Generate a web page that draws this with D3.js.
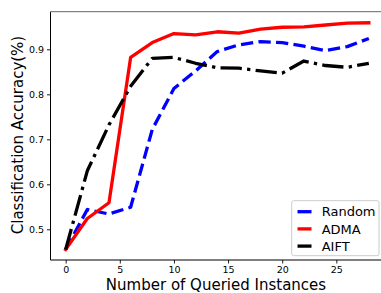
<!DOCTYPE html>
<html>
<head>
<meta charset="utf-8">
<script src="https://cdn.jsdelivr.net/npm/d3@7"></script>
<style>
  html, body { margin: 0; padding: 0; background: #fff; }
  svg { display: block; font-family: "DejaVu Sans", sans-serif; }
</style>
</head>
<body>
<svg id="chart" width="381" height="293"></svg>
<script>
const queried = [0, 2, 4, 6, 8, 10, 12, 14, 16, 18, 20, 22, 24, 26, 28];
const randomAcc = [0.455, 0.544, 0.534, 0.549, 0.722, 0.813, 0.852, 0.895, 0.910, 0.917, 0.915, 0.907, 0.897, 0.906, 0.924];
const admaAcc   = [0.455, 0.524, 0.559, 0.882, 0.915, 0.935, 0.932, 0.939, 0.936, 0.945, 0.949, 0.950, 0.954, 0.958, 0.959];
const aiftAcc   = [0.455, 0.630, 0.732, 0.818, 0.880, 0.882, 0.869, 0.859, 0.858, 0.852, 0.847, 0.874, 0.864, 0.860, 0.869];
const xTicks = [0, 5, 10, 15, 20, 25];
const yTicks = [0.5, 0.6, 0.7, 0.8, 0.9];
const seriesNames = ["Random", "ADMA", "AIFT"];

(function () {
const svg = d3.select("#chart");
const pL = 50.5, pR = 384, pT = 11.7, pB = 260;
const x = d3.scaleLinear().domain([-1.4, 29.4]).range([pL, pR]);
const y = d3.scaleLinear().domain([0.4318, 0.9836]).range([pB, pT]);

const series = [
  { name: seriesNames[0], values: randomAcc, color: "#0000ff", dash: "12.3,5.3" },
  { name: seriesNames[1], values: admaAcc,   color: "#ff0000", dash: null },
  { name: seriesNames[2], values: aiftAcc,   color: "#000000", dash: "21.3,5.3,3.3,5.3" }
];

svg.append("clipPath").attr("id", "clip")
  .append("rect").attr("x", pL).attr("y", pT).attr("width", pR - pL).attr("height", pB - pT);

const line = d3.line().x((d, i) => x(queried[i])).y(d => y(d));
const g = svg.append("g").attr("clip-path", "url(#clip)");
series.forEach(s => {
  g.append("path")
    .attr("d", line(s.values))
    .attr("fill", "none")
    .attr("stroke", s.color)
    .attr("stroke-width", 3.3)
    .attr("stroke-linejoin", "round")
    .attr("stroke-linecap", s.dash ? "butt" : "square")
    .attr("stroke-dasharray", s.dash);
});

const xAxis = d3.axisBottom(x).tickValues(xTicks).tickSize(3.5).tickPadding(3).tickFormat(d3.format("d"));
const yAxis = d3.axisLeft(y).tickValues(yTicks).tickSize(3.5).tickPadding(3).tickFormat(d3.format(".1f"));

const gx = svg.append("g").attr("transform", `translate(0,${pB})`).call(xAxis);
const gy = svg.append("g").attr("transform", `translate(${pL},0)`).call(yAxis);
[gx, gy].forEach(a => {
  a.select(".domain").remove();
  a.selectAll("text").attr("font-size", 9.5).attr("fill", "#000").attr("font-family", "DejaVu Sans");
  a.selectAll("line").attr("stroke", "#000").attr("stroke-width", 0.9);
});

svg.append("line").attr("x1", pL).attr("x2", pL).attr("y1", pT).attr("y2", pB)
  .attr("stroke", "#000").attr("stroke-width", 1);
svg.append("line").attr("x1", pL).attr("x2", 381).attr("y1", pB).attr("y2", pB)
  .attr("stroke", "#000").attr("stroke-width", 1);
svg.append("line").attr("x1", pL).attr("x2", 381).attr("y1", pT).attr("y2", pT)
  .attr("stroke", "#666").attr("stroke-width", 1);

svg.append("text").attr("x", 216).attr("y", 289.5).attr("text-anchor", "middle")
  .attr("font-size", 15).attr("fill", "#000").text("Number of Queried Instances");
svg.append("text").attr("transform", "translate(23,135) rotate(-90)").attr("text-anchor", "middle")
  .attr("font-size", 15).attr("fill", "#000").text("Classification Accuracy(%)");

const lg = svg.append("g");
lg.append("rect").attr("x", 291.7).attr("y", 200.7).attr("width", 87.3).attr("height", 55)
  .attr("rx", 2).attr("fill", "#fff").attr("fill-opacity", 0.8).attr("stroke", "#cccccc").attr("stroke-width", 1);
series.forEach((s, i) => {
  const yy = 211.7 + i * 17.2;
  lg.append("line").attr("x1", 297.5).attr("x2", 311.5).attr("y1", yy).attr("y2", yy)
    .attr("stroke", s.color).attr("stroke-width", 3.3);
  lg.append("text").attr("x", 321.7).attr("y", yy + 4.7).attr("font-size", 13).attr("fill", "#000").text(s.name);
});
})();
</script>
</body>
</html>
